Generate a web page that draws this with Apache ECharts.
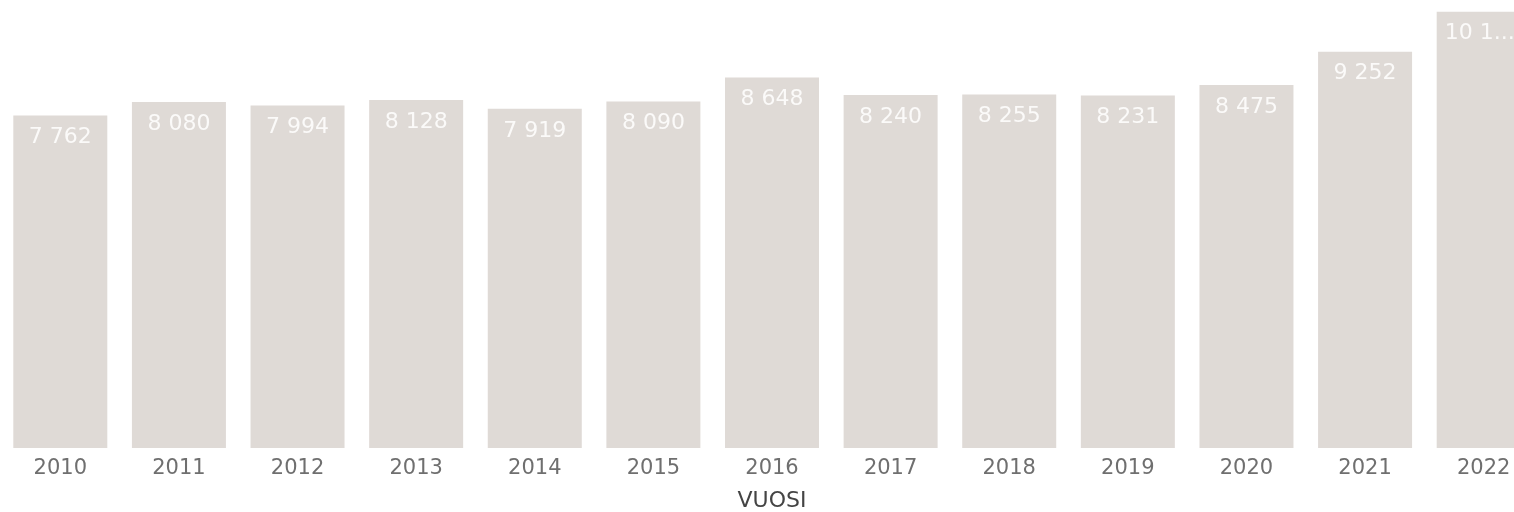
<!DOCTYPE html>
<html>
<head>
<meta charset="utf-8">
<script src="https://cdn.jsdelivr.net/npm/echarts@6/dist/echarts.min.js"></script>
<style>
  html, body { margin: 0; padding: 0; background: #fff; overflow: hidden; }
  /* chart is wider than the window: last bar runs past the right edge */
  #chart { width: 1543px; height: 512px; }
</style>
</head>
<body>
<div id="chart"></div>
<script>
const years = ['2010', '2011', '2012', '2013', '2014', '2015', '2016', '2017', '2018', '2019', '2020', '2021', '2022']
const values = [7762, 8080, 7994, 8128, 7919, 8090, 8648, 8240, 8255, 8231, 8475, 9252, 10187]
const axisName = 'VUOSI'

const barColor = '#dfdad6'
const fontFamily = 'DejaVu Sans'

function fmt(v) {
  return String(v).replace(/\B(?=(\d{3})+(?!\d))/g, ' ')
}

const chart = echarts.init(document.getElementById('chart'))

const seriesData = values.map((v, i) => {
  // last bar is cut by the right edge, its label gets shortened
  if (i === values.length - 1) {
    return { value: v, label: { width: 74, overflow: 'truncate', ellipsis: '...', offset: [-4, 0] } }
  }
  return v
})

chart.setOption({
  animation: false,
  grid: { left: 1, right: 0, top: 0, bottom: 64, outerBoundsMode: 'none' },
  xAxis: {
    type: 'category',
    data: years,
    axisLine: { show: false },
    axisTick: { show: false },
    axisLabel: { color: '#6f6f6f', fontSize: 21, fontFamily, margin: 10 },
    name: axisName,
    nameLocation: 'middle',
    nameGap: 42,
    nameTextStyle: { color: '#444', fontSize: 22, fontFamily },
  },
  yAxis: {
    type: 'value',
    min: 0,
    max: 10460,
    show: false,
  },
  series: [
    {
      type: 'bar',
      data: seriesData,
      barWidth: 94,
      itemStyle: { color: barColor },
      label: {
        show: true,
        position: 'insideTop',
        distance: 11,
        color: '#fbfaf9',
        fontSize: 22,
        fontFamily,
        formatter: (p) => fmt(p.value),
      },
    },
  ],
})
</script>
</body>
</html>
